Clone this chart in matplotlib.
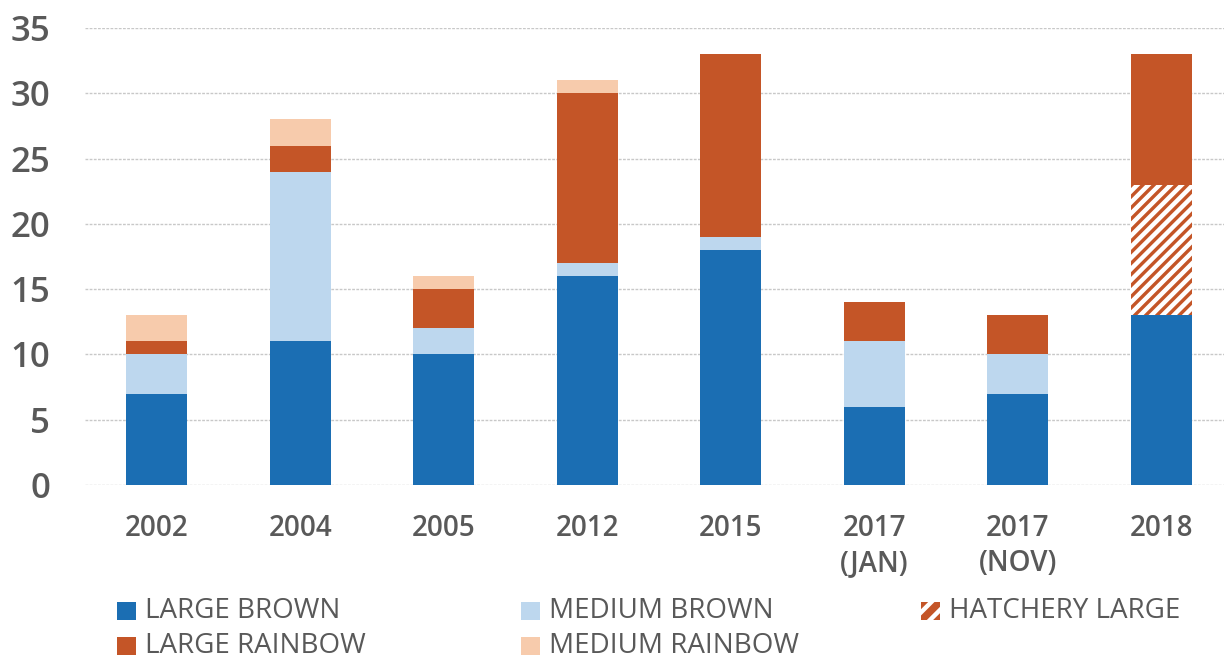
import matplotlib
matplotlib.use("Agg")
import matplotlib.pyplot as plt
from matplotlib.patches import Rectangle
import numpy as np

years = ["2002", "2004", "2005", "2012", "2015", "2017\n(JAN)", "2017\n(NOV)", "2018"]
large_brown = [7, 11, 10, 16, 18, 6, 7, 13]
medium_brown = [3, 13, 2, 1, 1, 5, 3, 0]
hatchery_large = [0, 0, 0, 0, 0, 0, 0, 10]
large_rainbow = [1, 2, 3, 13, 14, 3, 3, 10]
medium_rainbow = [2, 2, 1, 1, 0, 0, 0, 0]
y_ticks = [0, 5, 10, 15, 20, 25, 30, 35]

C_LB = "#1B6EB3"
C_MB = "#BDD7EE"
C_LR = "#C45527"
C_MR = "#F7CBAC"
TXT = "#595959"

plt.rcParams["font.family"] = ["Open Sans", "DejaVu Sans"]
plt.rcParams["hatch.linewidth"] = 3.2

W, H = 1224, 661
fig = plt.figure(figsize=(W / 100, H / 100), dpi=100)
ax = fig.add_axes([85 / W, 1 - 485 / H, (W - 85) / W, (485 - 28) / H])

x = np.arange(len(years))
bw = 0.425
bottom = np.zeros(len(years))

series = [
    ("LARGE BROWN", large_brown, dict(color=C_LB)),
    ("MEDIUM BROWN", medium_brown, dict(color=C_MB)),
    ("HATCHERY LARGE", hatchery_large, dict(facecolor=C_LR, edgecolor="white", hatch="///", linewidth=0)),
    ("LARGE RAINBOW", large_rainbow, dict(color=C_LR)),
    ("MEDIUM RAINBOW", medium_rainbow, dict(color=C_MR)),
]
for name, vals, style in series:
    vals = np.array(vals, dtype=float)
    ax.bar(x, vals, bw, bottom=bottom, zorder=3, **style)
    bottom += vals

ax.set_ylim(0, 35)
ax.set_xlim(-0.5, 7 + (W - 1161.5) / 143.57)
ax.set_yticks(y_ticks)
ax.set_yticklabels([str(v) for v in y_ticks], fontsize=25, fontweight="semibold", color=TXT)
ax.set_xticks(x)
ax.set_xticklabels(years, fontsize=20, fontweight="semibold", color=TXT, linespacing=1.25)
ax.tick_params(axis="both", length=0)
ax.tick_params(axis="y", pad=25)
ax.tick_params(axis="x", pad=21)
ax.yaxis.grid(True, color="#C8C8C8", linestyle=(0, (2, 1)), linewidth=1, zorder=0)
for s in ax.spines.values():
    s.set_visible(False)

# legend drawn in figure pixel coordinates
legend_items = [
    ("LARGE BROWN", 117, 611, dict(facecolor=C_LB, edgecolor="none")),
    ("MEDIUM BROWN", 521, 611, dict(facecolor=C_MB, edgecolor="none")),
    ("HATCHERY LARGE", 921, 611, dict(facecolor=C_LR, edgecolor="white", hatch="//", linewidth=0)),
    ("LARGE RAINBOW", 117, 646, dict(facecolor=C_LR, edgecolor="none")),
    ("MEDIUM RAINBOW", 521, 646, dict(facecolor=C_MR, edgecolor="none")),
]
for label, px, py, style in legend_items:
    rect = Rectangle((px / W, 1 - (py + 9) / H), 19 / W, 18 / H,
                     transform=fig.transFigure, **style)
    fig.add_artist(rect)
    fig.text((px + 28) / W, 1 - py / H, label, fontsize=20, color=TXT,
             ha="left", va="center")

fig.savefig("out.png", dpi=100)
